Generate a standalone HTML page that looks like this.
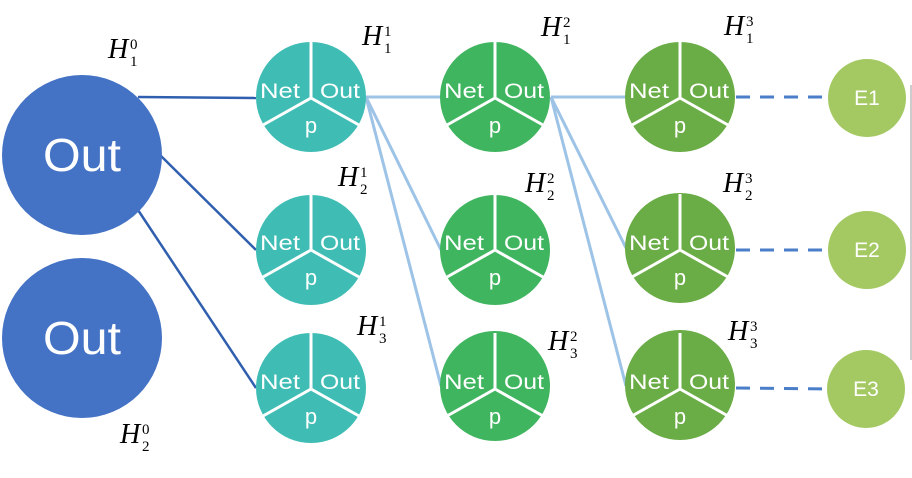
<!DOCTYPE html>
<html><head><style>body{margin:0;background:#fff}svg{display:block}</style></head><body>
<svg width="912" height="478" viewBox="0 0 912 478" xmlns="http://www.w3.org/2000/svg" font-family="Liberation Sans, sans-serif">
<defs>
<g id="pie">
<line x1="0" y1="-56" x2="0" y2="0" stroke="#fff" stroke-width="3"/>
<line x1="0" y1="0" x2="-48" y2="27" stroke="#fff" stroke-width="3"/>
<line x1="0" y1="0" x2="48" y2="27" stroke="#fff" stroke-width="3"/>
<text x="-31" y="0" fill="#fff" font-size="21" text-anchor="middle" textLength="40" lengthAdjust="spacingAndGlyphs">Net</text>
<text x="29" y="0" fill="#fff" font-size="21" text-anchor="middle" textLength="40" lengthAdjust="spacingAndGlyphs">Out</text>
<text x="0" y="35" fill="#fff" font-size="22" text-anchor="middle">p</text>
</g>
</defs>
<line x1="911" y1="85" x2="911" y2="360" stroke="#999" stroke-width="1"/>
<g stroke="#2F5FAE" stroke-width="2.5">
<line x1="138" y1="97" x2="256" y2="98"/>
<line x1="160" y1="155" x2="256" y2="250"/>
<line x1="138" y1="210" x2="256" y2="388"/>
</g>
<g stroke="#9DC3E6" stroke-width="3">
<line x1="366" y1="97" x2="441" y2="97"/>
<line x1="366" y1="97" x2="441" y2="250"/>
<line x1="366" y1="97" x2="441" y2="386"/>
<line x1="551" y1="97" x2="626" y2="97"/>
<line x1="551" y1="97" x2="626" y2="248"/>
<line x1="551" y1="97" x2="626" y2="386"/>
</g>
<g stroke="#4A7EC8" stroke-width="3" stroke-dasharray="14,10">
<line x1="736" y1="97" x2="828" y2="97"/>
<line x1="736" y1="250" x2="828" y2="250"/>
<line x1="736" y1="388" x2="828" y2="389"/>
</g>
<circle cx="82" cy="155" r="80" fill="#4472C4"/>
<circle cx="82" cy="338" r="80" fill="#4472C4"/>
<text x="82" y="171" fill="#fff" font-size="46" text-anchor="middle" textLength="78" lengthAdjust="spacingAndGlyphs">Out</text>
<text x="82" y="354" fill="#fff" font-size="46" text-anchor="middle" textLength="78" lengthAdjust="spacingAndGlyphs">Out</text>
<g fill="#3FBDB5">
<circle cx="311" cy="97" r="55"/><circle cx="311" cy="250" r="55"/><circle cx="311" cy="388" r="55"/></g>
<g fill="#40B560">
<circle cx="495" cy="97" r="55"/><circle cx="495" cy="250" r="55"/><circle cx="495" cy="386" r="55"/></g>
<g fill="#6AAC45">
<circle cx="680" cy="97" r="55"/><circle cx="680" cy="248" r="55"/><circle cx="680" cy="385" r="55"/></g>
<use href="#pie" x="311" y="98"/><use href="#pie" x="311" y="250"/><use href="#pie" x="311" y="389"/>
<use href="#pie" x="495" y="98"/><use href="#pie" x="495" y="250"/><use href="#pie" x="495" y="389"/>
<use href="#pie" x="680" y="98"/><use href="#pie" x="680" y="250"/><use href="#pie" x="680" y="389"/>
<g fill="#A4C963">
<circle cx="867" cy="98" r="39"/><circle cx="867" cy="250" r="39"/><circle cx="866" cy="389" r="39"/></g>
<g fill="#fff" font-size="21" text-anchor="middle">
<text x="867" y="105">E1</text><text x="867" y="257">E2</text><text x="866" y="396">E3</text></g>
<g font-family="Liberation Serif, serif" font-style="italic" font-size="28">
<text x="108" y="58">H</text><text x="362" y="45">H</text><text x="541" y="36">H</text><text x="724" y="35">H</text>
<text x="338" y="186">H</text><text x="525" y="192">H</text><text x="723" y="192">H</text>
<text x="357" y="335">H</text><text x="548" y="350">H</text><text x="728" y="340">H</text>
<text x="120" y="443">H</text>
</g>
<g font-family="Liberation Serif, serif" font-size="15">
<text x="130" y="49">0</text><text x="130" y="66">1</text>
<text x="384" y="36">1</text><text x="384" y="53">1</text>
<text x="563" y="27">2</text><text x="563" y="44">1</text>
<text x="746" y="26">3</text><text x="746" y="43">1</text>
<text x="360" y="177">1</text><text x="360" y="194">2</text>
<text x="547" y="183">2</text><text x="547" y="200">2</text>
<text x="745" y="183">3</text><text x="745" y="200">2</text>
<text x="379" y="326">1</text><text x="379" y="343">3</text>
<text x="570" y="341">2</text><text x="570" y="358">3</text>
<text x="750" y="331">3</text><text x="750" y="348">3</text>
<text x="142" y="434">0</text><text x="142" y="451">2</text>
</g>
</svg>
</body></html>
